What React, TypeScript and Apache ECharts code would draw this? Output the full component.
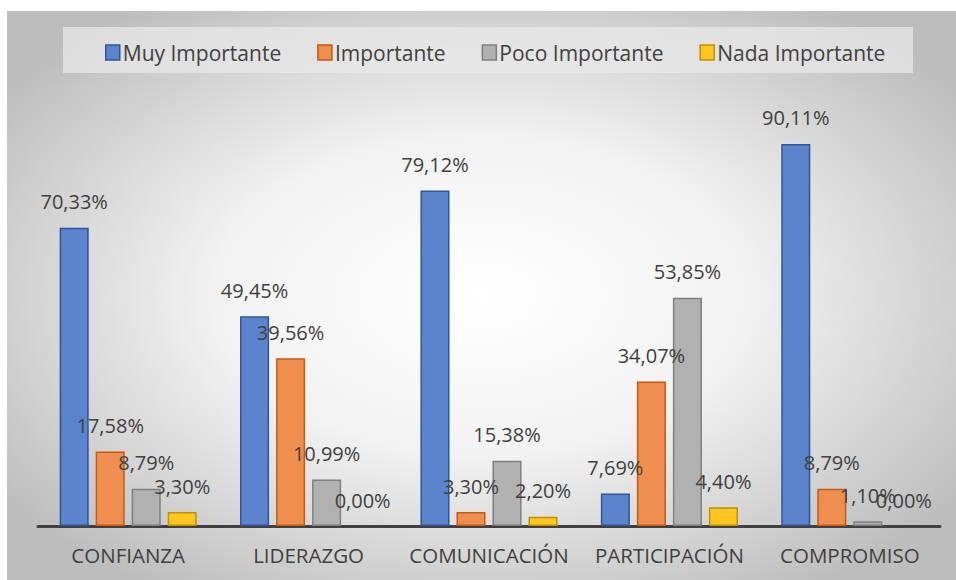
import React, { useEffect, useRef } from "react";
import * as echarts from "echarts";

const categories = ["CONFIANZA", "LIDERAZGO", "COMUNICACIÓN", "PARTICIPACIÓN", "COMPROMISO"];
const seriesNames = ["Muy Importante", "Importante", "Poco Importante", "Nada Importante"];
const muyImportante = [70.33, 49.45, 79.12, 7.69, 90.11];
const importante = [17.58, 39.56, 3.3, 34.07, 8.79];
const pocoImportante = [8.79, 10.99, 15.38, 53.85, 1.1];
const nadaImportante = [3.3, 0.0, 2.2, 4.4, 0.0];

const fills = ["#5b84cd", "#ef8f4f", "#b1b1b1", "#ffc622"];
const borders = ["#2f5597", "#c55a11", "#7f7f7f", "#bf9000"];
const textColor = "#404040";
const font = "Open Sans";

export default function App() {
  const ref = useRef<HTMLDivElement>(null);
  useEffect(() => {
    if (!ref.current) return;
    const chart = echarts.init(ref.current, undefined, { renderer: "svg" });
    const values = [muyImportante, importante, pocoImportante, nadaImportante];
    chart.setOption({
      animation: false,
      graphic: [
        {
          type: "rect",
          z: -10,
          shape: { x: 7, y: 11, width: 949, height: 569 },
          style: {
            fill: new echarts.graphic.RadialGradient(0.5, 0.5, 0.62, [
              { offset: 0, color: "#ffffff" },
              { offset: 0.45, color: "#f2f2f2" },
              { offset: 1, color: "#bdbdbd" },
            ]),
          },
        },
        {
          type: "rect",
          z: -5,
          shape: { x: 63, y: 27, width: 850, height: 46 },
          style: { fill: "rgba(232,232,232,0.75)" },
        },
      ],
      legend: {
        left: 100,
        top: 37,
        icon: "rect",
        itemWidth: 14,
        itemHeight: 15,
        itemGap: 36,
        textStyle: { color: textColor, fontSize: 21, fontFamily: font, padding: [0, 0, 0, -2] },
        data: seriesNames.map((n, i) => ({
          name: n,
          itemStyle: { color: fills[i], borderColor: borders[i], borderWidth: 1.5 },
        })),
      },
      grid: { left: 38, right: 16, top: 102, bottom: 54 },
      xAxis: {
        type: "category",
        data: categories,
        axisLine: { lineStyle: { color: textColor, width: 3 } },
        axisTick: { show: false },
        axisLabel: { color: textColor, fontSize: 20.5, fontFamily: font, margin: 18, interval: 0 },
      },
      yAxis: {
        type: "value",
        min: 0,
        max: 100,
        show: false,
        splitLine: { show: false },
      },
      series: values.map((v, i) => ({
        name: seriesNames[i],
        type: "bar",
        data: v.map((x) => (x === 0 ? { value: x, itemStyle: { borderWidth: 0 } } : x)),
        barGap: "24%",
        barCategoryGap: "24%",
        itemStyle: { color: fills[i], borderColor: borders[i], borderWidth: 1.5 },
        label: {
          show: true,
          position: "top",
          distance: 16,
          color: textColor,
          fontSize: 20,
          fontFamily: font,
          formatter: (p: any) => Number(p.value).toFixed(2).replace(".", ",") + "%",
        },
      })),
    });
    return () => chart.dispose();
  }, []);
  return (
    <div
      ref={ref}
      style={{ position: "fixed", left: 0, top: 0, width: 956, height: 580, background: "#ffffff" }}
    />
  );
}
